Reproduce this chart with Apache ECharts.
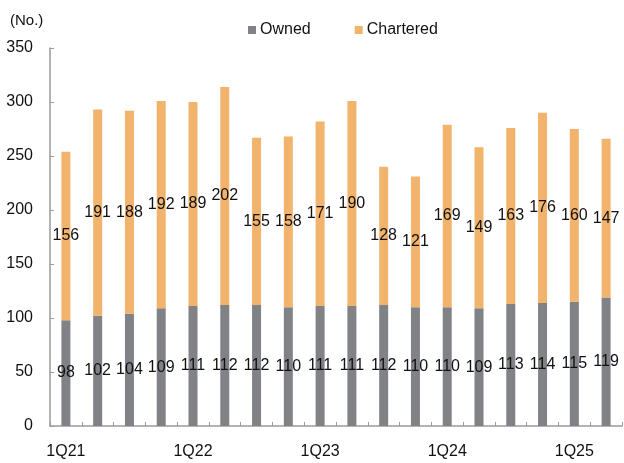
<!DOCTYPE html>
<html><head><meta charset="utf-8">
<script src="https://cdn.jsdelivr.net/npm/echarts@6/dist/echarts.min.js"></script>
<style>html,body{margin:0;padding:0;background:#fff}#c{width:624px;height:463px}</style>
</head><body><div id="c"></div>
<script>
const categories = ['1Q21','2Q21','3Q21','4Q21','1Q22','2Q22','3Q22','4Q22','1Q23','2Q23','3Q23','4Q23','1Q24','2Q24','3Q24','4Q24','1Q25','2Q25'];
const owned = [98,102,104,109,111,112,112,110,111,111,112,110,110,109,113,114,115,119];
const chartered = [156,191,188,192,189,202,155,158,171,190,128,121,169,149,163,176,160,147];
const yTicks = [0,50,100,150,200,250,300,350];
const FONT = '"Liberation Sans", Arial, sans-serif';
const chart = echarts.init(document.getElementById('c'), null, {renderer:'canvas'});
const lbl = {show:true, position:'inside', color:'#111', fontFamily:FONT, fontSize:16};
chart.setOption({
  animation:false,
  textStyle:{fontFamily:FONT},
  legend:{
    top:17, left:243, itemWidth:8, itemHeight:8, itemGap:44, icon:'rect',
    textStyle:{fontFamily:FONT, fontSize:16, color:'#111', padding:[0,0,0,-1]},
    data:['Owned','Chartered']
  },
  graphic:[{type:'text', left:10, top:13, style:{text:'(No.)', font:'15px '+FONT, fill:'#111'}}],
  grid:{left:50, right:2, top:48, bottom:37},
  xAxis:{
    type:'category', data:categories,
    axisLine:{lineStyle:{color:'#9a9a9a', width:1.5}},
    axisTick:{show:true, inside:true, interval:0, length:4, lineStyle:{color:'#9a9a9a'}},
    axisLabel:{interval:3, color:'#111', fontFamily:FONT, fontSize:16, margin:18}
  },
  yAxis:{
    type:'value', min:0, max:350, interval:50,
    splitLine:{show:false},
    axisLine:{show:true, lineStyle:{color:'#9a9a9a', width:1.5}},
    axisTick:{show:true, inside:true, length:4, lineStyle:{color:'#9a9a9a'}},
    axisLabel:{color:'#111', fontFamily:FONT, fontSize:16, margin:17,
      formatter:v=>yTicks.includes(v)?String(v):''}
  },
  series:[
    {name:'Owned', type:'bar', stack:'a', data:owned, barWidth:9,
      itemStyle:{color:'#808285'}, label:lbl},
    {name:'Chartered', type:'bar', stack:'a', data:chartered, barWidth:9,
      itemStyle:{color:'#F2B36D'}, label:lbl}
  ]
});
</script></body></html>
